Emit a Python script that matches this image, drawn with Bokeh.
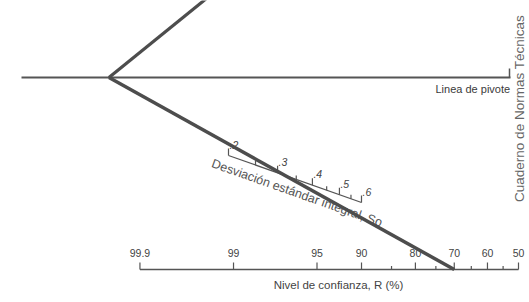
import math
from statistics import NormalDist
from bokeh.plotting import figure
from bokeh.models import Range1d
from bokeh.core.properties import value
from bokeh.embed import file_html
from bokeh.resources import INLINE

# ---------------- data ----------------
r_major = [99.9, 99, 95, 90, 80, 70, 60, 50]
r_major_labels = ["99.9", "99", "95", "90", "80", "70", "60", "50"]
r_minor = [85, 75, 65, 55]
s0_major = [0.2, 0.3, 0.4, 0.5, 0.6]
s0_major_labels = [".2", ".3", ".4", ".5", ".6"]
s0_minor = [0.25, 0.35, 0.45, 0.55]
example_R = 70
example_S0 = 0.32

# ---------------- layout (picture pixels) ----------------
PW, PH = 529, 302
def Y(py):
    return PH - py

R_X50, R_K, R_Y = 518.0, 122.5, 269.0
def rx(r):
    return R_X50 - R_K * NormalDist().inv_cdf(r / 100.0)

S_A, S_B = (228.0, 155.0), (361.0, 202.0)
def s_pt(s):
    t = math.log(s / s0_major[0]) / math.log(s0_major[-1] / s0_major[0])
    return (S_A[0] + t * (S_B[0] - S_A[0]), S_A[1] + t * (S_B[1] - S_A[1]))

PIV_Y, PIV_X0, PIV_X1 = 77.0, 21.0, 510.0

FONT = value("Liberation Sans")
INK = "#4d4d4d"

p = figure(width=PW, height=PH, x_range=Range1d(0, PW), y_range=Range1d(0, PH),
           output_backend="svg", toolbar_location=None,
           x_axis_location=None, y_axis_location=None, min_border=0)
p.outline_line_color = None
p.xgrid.visible = False
p.ygrid.visible = False
p.background_fill_color = "white"
p.border_fill_color = "white"

# pivot line
p.segment(x0=[PIV_X0], y0=[Y(PIV_Y)], x1=[PIV_X1], y1=[Y(PIV_Y)], line_color="#555555", line_width=2)
p.segment(x0=[PIV_X1 - 1], y0=[Y(PIV_Y)], x1=[PIV_X1 - 1], y1=[Y(PIV_Y - 9)], line_color="#555555", line_width=1.5)
p.text(x=[435], y=[Y(88)], text=["Linea de pivote"], text_font=FONT, text_font_size="11px",
       text_color="#3a3a3a", text_align="left", text_baseline="middle")

# R scale
xa, xb = rx(r_major[0]), rx(r_major[-1])
p.segment(x0=[xa], y0=[Y(R_Y)], x1=[xb], y1=[Y(R_Y)], line_color="#555555", line_width=1.3)
mx = [rx(r) for r in r_major]
p.segment(x0=mx, y0=[Y(R_Y)] * len(mx), x1=mx, y1=[Y(R_Y - 7)] * len(mx), line_color="#555555", line_width=1.2)
nx = [rx(r) for r in r_minor]
p.segment(x0=nx, y0=[Y(R_Y)] * len(nx), x1=nx, y1=[Y(R_Y - 3.5)] * len(nx), line_color="#555555", line_width=1.2)
p.text(x=mx, y=[Y(252)] * len(mx), text=r_major_labels, text_font=FONT, text_font_size="10.5px",
       text_color="#444444", text_align="center", text_baseline="middle")
p.text(x=[338], y=[Y(284)], text=["Nivel de confianza, R (%)"], text_font=FONT, text_font_size="11.5px",
       text_color="#444444", text_align="center", text_baseline="middle")

# S0 scale
p.segment(x0=[S_A[0]], y0=[Y(S_A[1])], x1=[S_B[0]], y1=[Y(S_B[1])], line_color="#555555", line_width=1.2)
sm = [s_pt(s) for s in s0_major]
p.segment(x0=[q[0] for q in sm], y0=[Y(q[1]) for q in sm], x1=[q[0] for q in sm],
          y1=[Y(q[1] - 7) for q in sm], line_color="#555555", line_width=1.2)
sn = [s_pt(s) for s in s0_minor]
p.segment(x0=[q[0] for q in sn], y0=[Y(q[1]) for q in sn], x1=[q[0] for q in sn],
          y1=[Y(q[1] - 4) for q in sn], line_color="#555555", line_width=1.2)
p.text(x=[q[0] + 1 for q in sm], y=[Y(q[1] - 7) for q in sm], text=s0_major_labels, text_font=FONT,
       text_font_size="10.5px", text_font_style="italic", text_color="#444444",
       text_align="left", text_baseline="bottom")
p.text(x=[214], y=[Y(156)], text=["Desviación estándar integral, So"], angle=[-math.radians(19.5)],
       text_font=FONT, text_font_size="12.5px", text_color="#555555", text_align="left", text_baseline="top")

# example construction lines
PR = (rx(example_R), R_Y)
PS = s_pt(example_S0)
pivot_x = PR[0] + (PIV_Y - PR[1]) * (PS[0] - PR[0]) / (PS[1] - PR[1])
p.line(x=[pivot_x, PR[0]], y=[Y(PIV_Y), Y(PR[1])], line_color=INK, line_width=3.5)
UP_DX, UP_DY = 95.0, -77.0
k = (PIV_Y + 30) / -UP_DY
p.line(x=[pivot_x, pivot_x + k * UP_DX], y=[Y(PIV_Y), Y(PIV_Y + k * UP_DY)], line_color=INK, line_width=3.2)

# side caption
p.text(x=[519], y=[Y(108)], text=["Cuaderno de Normas Técnicas"], angle=[math.pi / 2],
       text_font=FONT, text_font_size="13.5px", text_color="#666666",
       text_align="center", text_baseline="middle")

open("out.html", "w").write(file_html(p, INLINE))
